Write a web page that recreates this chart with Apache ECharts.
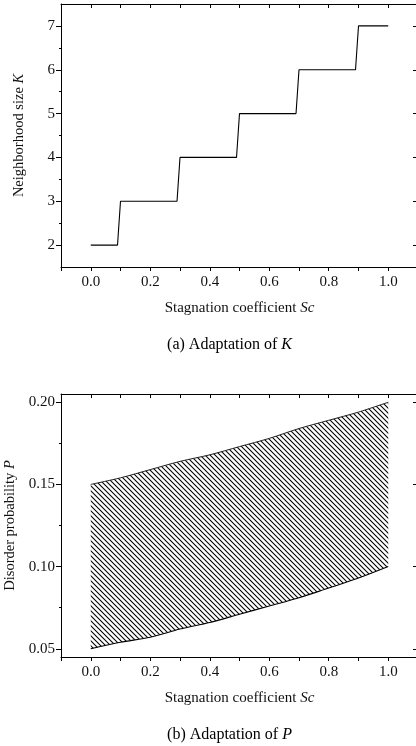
<!DOCTYPE html>
<html>
<head>
<meta charset="utf-8">
<script src="https://cdn.jsdelivr.net/npm/echarts@6/dist/echarts.min.js"></script>
<style>
html,body{margin:0;padding:0;background:#fff;}
#c{width:416px;height:746px;}
</style>
</head>
<body>
<div id="c"></div>
<script>
// ---- Data (a): Neighborhood size K vs Sc (step function)
const kSc = [0, 0.09, 0.1, 0.29, 0.3, 0.49, 0.5, 0.69, 0.7, 0.89, 0.9, 1.0];
const kVal = [2, 2, 3, 3, 4, 4, 5, 5, 6, 6, 7, 7];
// ---- Data (b): Disorder probability P band vs Sc
const pSc = [0, 0.1, 0.2, 0.3, 0.4, 0.5, 0.6, 0.7, 0.8, 0.9, 1.0];
const pLow = [0.050, 0.054, 0.057, 0.062, 0.066, 0.071, 0.076, 0.081, 0.087, 0.093, 0.100];
const pHigh = [0.150, 0.154, 0.159, 0.164, 0.168, 0.173, 0.178, 0.184, 0.189, 0.194, 0.200];
// ---- Tick values
const xTicks = [-0.1, 0, 0.1, 0.2, 0.3, 0.4, 0.5, 0.6, 0.7, 0.8, 0.9, 1.0, 1.1];
const xLabels = [0, 0.2, 0.4, 0.6, 0.8, 1.0];
const kMajor = [2, 3, 4, 5, 6, 7];
const kMinor = [2.5, 3.5, 4.5, 5.5, 6.5];
const pMajor = [0.05, 0.10, 0.15, 0.20];
const pMinor = [0.075, 0.125, 0.175];

const FONT = '"Liberation Serif", "Times New Roman", serif';
const TXT = '#111';
const LINE = '#000';

function richName(plain, ital) {
  return '{a|' + plain + '}{b|' + ital + '}';
}
function rich(size) {
  return {
    a: { fontFamily: FONT, fontSize: size, color: TXT },
    b: { fontFamily: FONT, fontSize: size, color: TXT, fontStyle: 'italic' }
  };
}

// hatch pattern
const tile = 5;
const cv = document.createElement('canvas');
cv.width = tile; cv.height = tile;
const cx = cv.getContext('2d');
cx.strokeStyle = '#000';
cx.lineWidth = 1.1;
for (let o = -tile; o <= tile; o += tile) {
  cx.beginPath();
  cx.moveTo(o - 1, -1);
  cx.lineTo(o + tile + 1, tile + 1);
  cx.stroke();
}

function xAxesFor(g) {
  return [
    {
      type: 'value', gridIndex: g, position: 'bottom', min: -0.1, max: 1.1,
      axisLine: { show: true, onZero: false, lineStyle: { color: LINE, width: 1 } },
      axisTick: { show: true, inside: false, length: 4, customValues: xTicks, lineStyle: { color: LINE } },
      axisLabel: { show: true, customValues: xLabels, margin: 8, fontFamily: FONT, fontSize: 15, color: TXT,
        formatter: v => Number(v).toFixed(1) },
      splitLine: { show: false },
      name: richName('Stagnation coefficient ', 'Sc'), nameLocation: 'middle', nameGap: 34,
      nameTextStyle: { rich: rich(15) }
    },
    {
      type: 'value', gridIndex: g, position: 'top', min: -0.1, max: 1.1,
      axisLine: { show: true, onZero: false, lineStyle: { color: LINE, width: 1 } },
      axisTick: { show: true, inside: true, length: 4, customValues: xTicks, lineStyle: { color: LINE } },
      axisLabel: { show: false },
      splitLine: { show: false }
    }
  ];
}

function yAxesFor(g, min, max, major, minor, fmt, nameTxt, nameIt) {
  const base = { type: 'value', gridIndex: g, min: min, max: max, splitLine: { show: false } };
  return [
    Object.assign({}, base, {
      position: 'left',
      axisLine: { show: true, onZero: false, lineStyle: { color: LINE, width: 1 } },
      axisTick: { show: true, inside: false, length: 5, customValues: major, lineStyle: { color: LINE } },
      axisLabel: { show: true, customValues: major, margin: 6, fontFamily: FONT, fontSize: 15, color: TXT, formatter: fmt },
      name: richName(nameTxt, nameIt), nameLocation: 'middle', nameGap: 34,
      nameTextStyle: { rich: rich(14.5) }
    }),
    Object.assign({}, base, {
      position: 'left',
      axisLine: { show: false, onZero: false },
      axisTick: { show: true, inside: false, length: 2, customValues: minor, lineStyle: { color: LINE } },
      axisLabel: { show: false }
    }),
    Object.assign({}, base, {
      position: 'right',
      axisLine: { show: true, onZero: false, lineStyle: { color: LINE, width: 1 } },
      axisTick: { show: true, inside: true, length: 5, customValues: major, lineStyle: { color: LINE } },
      axisLabel: { show: false }
    }),
    Object.assign({}, base, {
      position: 'right',
      axisLine: { show: false, onZero: false },
      axisTick: { show: true, inside: true, length: 2, customValues: minor, lineStyle: { color: '#777' } },
      axisLabel: { show: false }
    })
  ];
}

const kData = kSc.map((x, i) => [x, kVal[i]]);
const lowData = pSc.map((x, i) => [x, pLow[i]]);
const highData = pSc.map((x, i) => [x, pHigh[i]]);

const option = {
  backgroundColor: '#fff',
  animation: false,
  grid: [
    { left: 61, top: 4, width: 357, height: 263, containLabel: false, outerBoundsMode: 'none' },
    { left: 61, top: 394, width: 357, height: 263, containLabel: false, outerBoundsMode: 'none' }
  ],
  xAxis: xAxesFor(0).concat(xAxesFor(1)),
  yAxis: yAxesFor(0, 1.5, 7.5, kMajor, kMinor, v => String(Math.round(v)), 'Neighborhood size ', 'K')
    .concat(yAxesFor(1, 0.045, 0.205, pMajor, pMinor, v => Number(v).toFixed(2), 'Disorder probability ', 'P')),
  series: [
    {
      type: 'line', xAxisIndex: 0, yAxisIndex: 0, data: kData, showSymbol: false, symbol: 'none',
      lineStyle: { color: LINE, width: 1.1 }
    },
    {
      type: 'custom', xAxisIndex: 2, yAxisIndex: 4, data: [0], z: 1,
      renderItem: function (params, api) {
        const pts = [];
        for (let i = 0; i < pSc.length; i++) pts.push(api.coord([pSc[i], pHigh[i]]));
        for (let i = pSc.length - 1; i >= 0; i--) pts.push(api.coord([pSc[i], pLow[i]]));
        return { type: 'polygon', shape: { points: pts }, style: { fill: { image: cv, repeat: 'repeat' }, stroke: null } };
      }
    },
    {
      type: 'line', xAxisIndex: 2, yAxisIndex: 4, data: highData, showSymbol: false, symbol: 'none',
      smooth: 0.3, lineStyle: { color: '#222', width: 1 }, z: 3
    },
    {
      type: 'line', xAxisIndex: 2, yAxisIndex: 4, data: lowData, showSymbol: false, symbol: 'none',
      smooth: 0.3, lineStyle: { color: LINE, width: 1.1 }, z: 3
    }
  ],
  graphic: [
    { type: 'text', x: 229.5, y: 345, style: { text: '{a|(a) Adaptation of }{b|K}', rich: rich(16), align: 'center', verticalAlign: 'middle' } },
    { type: 'text', x: 229.5, y: 735, style: { text: '{a|(b) Adaptation of }{b|P}', rich: rich(16), align: 'center', verticalAlign: 'middle' } }
  ]
};

const chart = echarts.init(document.getElementById('c'), null, { renderer: 'canvas' });
chart.setOption(option);
</script>
</body>
</html>
